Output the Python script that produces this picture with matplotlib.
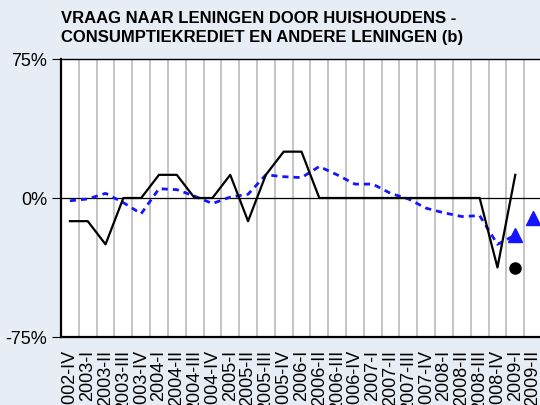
import matplotlib
matplotlib.use("Agg")
import matplotlib.pyplot as plt
import numpy as np

plt.rcParams['font.family'] = ['Liberation Sans', 'DejaVu Sans']

quarters = ['2002-IV',
            '2003-I', '2003-II', '2003-III', '2003-IV',
            '2004-I', '2004-II', '2004-III', '2004-IV',
            '2005-I', '2005-II', '2005-III', '2005-IV',
            '2006-I', '2006-II', '2006-III', '2006-IV',
            '2007-I', '2007-II', '2007-III', '2007-IV',
            '2008-I', '2008-II', '2008-III', '2008-IV',
            '2009-I', '2009-II']

# Belgium (black solid), net percentages
belgium = [-12.5, -12.5, -25, 0, 0, 12.5, 12.5, 0, 0, 12.5, -12.5, 12.5, 25,
           25, 0, 0, 0, 0, 0, 0, 0, 0, 0, 0, -37.5, 12.5, np.nan]
# euro area (blue dashed)
euro_area = [-1.5, -0.5, 2.5, -2.5, -8.5, 5, 4.5, 1, -3, 0.5, 2, 12.5, 11.5,
             11, 17, 12.5, 7.5, 7.5, 2.5, -0.5, -5.5, -8, -10, -9.5, -25, -20, np.nan]
# expectations
belgium_exp = [np.nan] * 25 + [-37.5, np.nan]
euro_area_exp = [np.nan] * 25 + [-20, -11]

title = 'VRAAG NAAR LENINGEN DOOR HUISHOUDENS -\nCONSUMPTIEKREDIET EN ANDERE LENINGEN (b)'

bg = '#e6edf4'
x = np.arange(len(quarters))

fig = plt.figure(figsize=(5.4, 4.05), dpi=100, facecolor=bg)
ax = fig.add_axes([61 / 540, 1 - 337 / 405, 481 / 540, 278 / 405])
ax.set_facecolor('white')

# vertical grid between categories
for b in np.arange(-0.5, len(quarters) + 0.5, 1.0):
    ax.axvline(b, color='#c0c0c0', lw=1.3, zorder=1)
ax.axhline(0, color='black', lw=0.9, zorder=2)

ax.plot(x, belgium, color='black', lw=1.6, zorder=4)
ax.plot(x, euro_area, color='#1414ff', lw=2.0, ls=(0, (2.2, 1.8)), zorder=3)
ax.plot(x, belgium_exp, 'o', color='black', ms=8, zorder=5)
ax.plot(x, euro_area_exp, '^', color='#1414ff', ms=10, zorder=5)

ax.set_xlim(-0.5, len(quarters) - 0.5)
ax.set_ylim(-75, 75)
ax.set_yticks([-75, 0, 75])
ax.set_yticklabels(['-75%', '0%', '75%'], fontsize=13)
ax.tick_params(axis='y', length=6.5, width=0.8, pad=3.5)
ax.set_xticks(x)
ax.set_xticklabels(quarters, rotation=90, fontsize=13)
ax.tick_params(axis='x', length=0, pad=9.5)

ax.spines['left'].set_linewidth(1.6)
ax.spines['bottom'].set_linewidth(1.6)
ax.spines['top'].set_linewidth(1.0)
ax.spines['right'].set_visible(False)

fig.text(61 / 540, 1 - 11 / 405, title, ha='left', va='top',
         fontsize=12, fontweight='bold', linespacing=1.3)

fig.savefig('out.png', dpi=100, facecolor=bg)
